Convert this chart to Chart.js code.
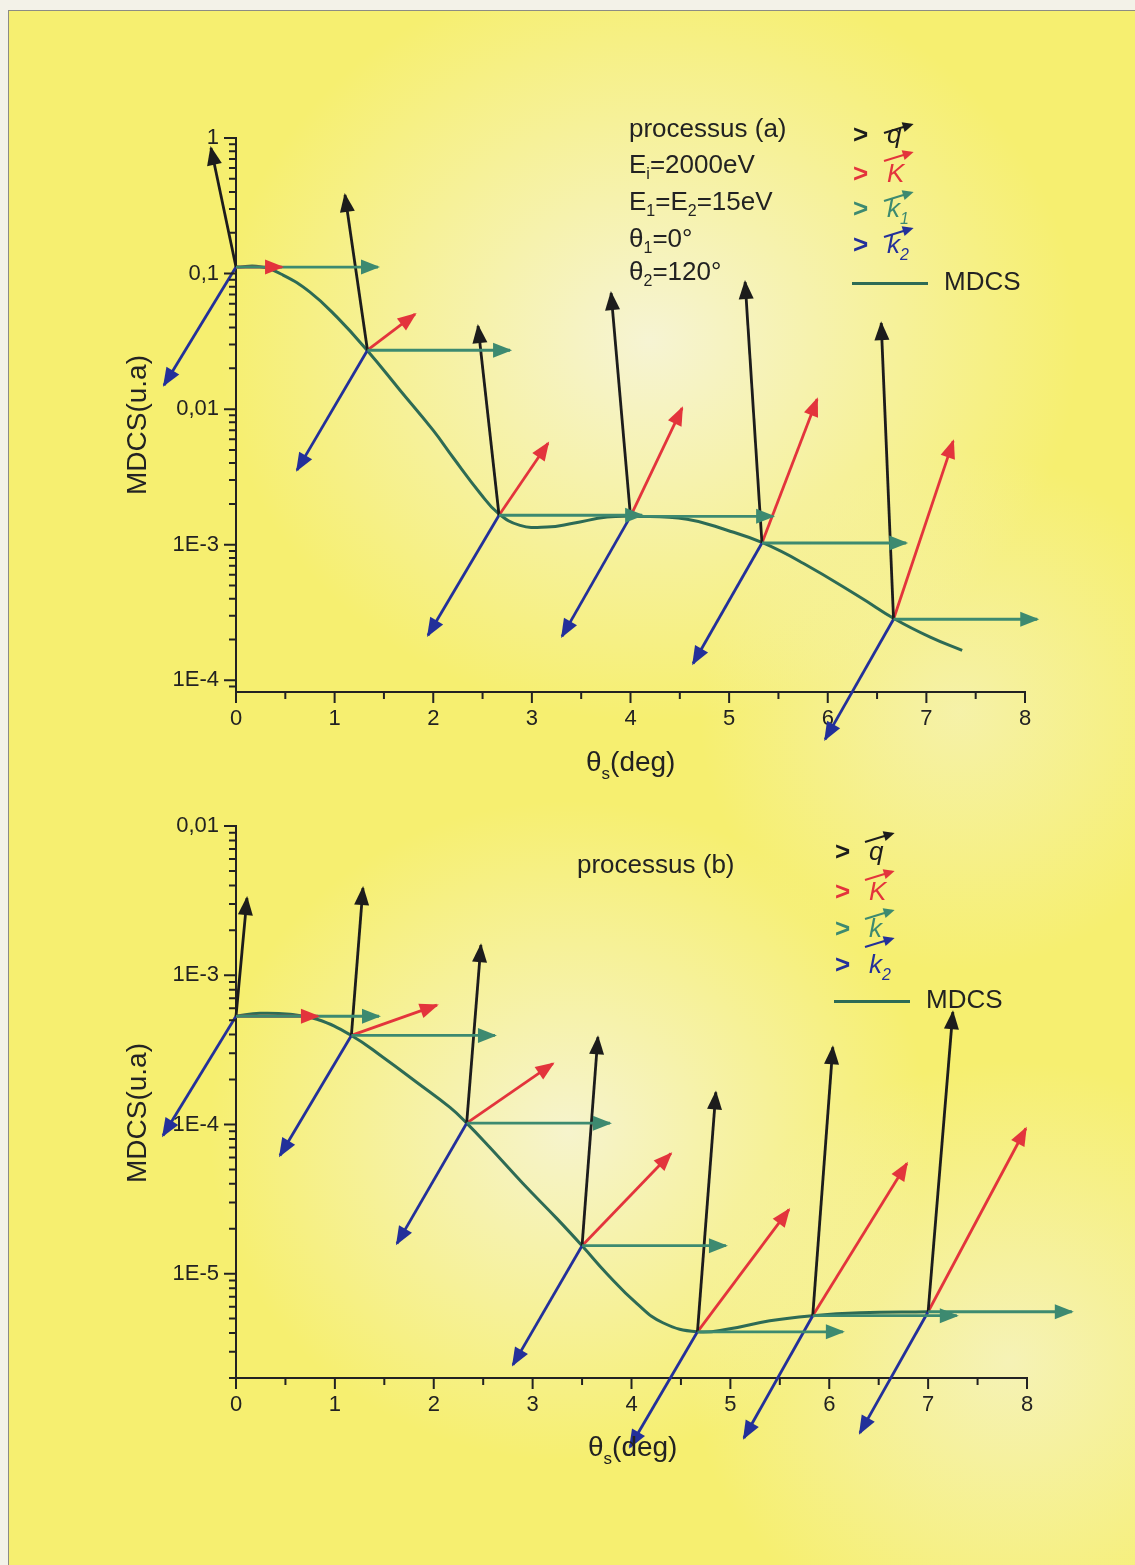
<!DOCTYPE html>
<html>
<head>
<meta charset="utf-8">
<script src="https://cdn.jsdelivr.net/npm/chart.js@4.4.1/dist/chart.umd.min.js"></script>
<style>
html, body { margin: 0; padding: 0; }
body {
    width: 1135px; height: 1565px; position: relative; overflow: hidden;
    background: #f3f2e8;
    font-family: "Liberation Sans", Arial, sans-serif; color: #222;
}
#page {
    position: absolute; left: 8px; top: 10px; right: 0; bottom: 0;
    border-top: 1.5px solid #8c8c84; border-left: 1.5px solid #8c8c84;
    background:
        radial-gradient(ellipse 430px 380px at 640px 330px, rgba(246,244,214,0.97), rgba(246,244,214,0) 100%),
        radial-gradient(ellipse 360px 330px at 560px 1120px, rgba(246,244,212,0.92), rgba(246,244,212,0) 100%),
        radial-gradient(ellipse 320px 300px at 1000px 1350px, rgba(245,243,205,0.75), rgba(245,243,205,0) 100%),
        radial-gradient(ellipse 260px 260px at 950px 700px, rgba(245,243,205,0.6), rgba(245,243,205,0) 100%),
        #f6ef70;
}
canvas { position: absolute; left: 0; }
.txt { position: absolute; font-size: 26px; line-height: 1; white-space: nowrap; }
.txt sub { font-size: 16px; vertical-align: -6px; line-height: 0; }
.row { position: absolute; font-size: 26px; line-height: 1; white-space: nowrap; }
.gt { font-weight: bold; display: inline-block; width: 34px; }
.vec { position: relative; display: inline-block; font-style: italic; }
.vec i {
    position: absolute; left: -3px; top: 0; width: 28px; height: 2px;
    background: currentColor; transform: rotate(-17deg); transform-origin: 0 50%;
}
.vec i::after {
    content: ''; position: absolute; right: -3px; top: -4px;
    border-left: 11px solid currentColor; border-top: 5px solid transparent; border-bottom: 5px solid transparent;
}
.vec sub { font-size: 16px; vertical-align: -7px; line-height: 0; font-style: italic; }
.leg-line { display: inline-block; width: 76px; height: 3px; background: #2d6b55; vertical-align: middle; margin-right: 16px; }
.ytitle { position: absolute; font-size: 28px; line-height: 1; white-space: nowrap; transform: translate(-50%, -50%) rotate(-90deg); }
.xtitle { position: absolute; font-size: 28px; line-height: 1; white-space: nowrap; }
.xtitle sub { font-size: 17px; vertical-align: -8px; line-height: 0; }
</style>
</head>
<body>
<div id="page"></div>
<canvas id="chart-a" width="1135" height="800" style="top:0"></canvas>
<canvas id="chart-b" width="1135" height="865" style="top:700px"></canvas>

<!-- processus (a) -->
<div class="txt" style="left:629px;top:115px">processus (a)</div>
<div class="txt" style="left:629px;top:151px">E<sub>i</sub>=2000eV</div>
<div class="txt" style="left:629px;top:188px">E<sub>1</sub>=E<sub>2</sub>=15eV</div>
<div class="txt" style="left:629px;top:225px">θ<sub>1</sub>=0°</div>
<div class="txt" style="left:629px;top:258px">θ<sub>2</sub>=120°</div>

<div class="row" style="left:853px;top:121px;color:#1c1c1c"><span class="gt">&gt;</span><span class="vec">q<i style="top:11px"></i></span></div>
<div class="row" style="left:853px;top:160px;color:#e3343c"><span class="gt">&gt;</span><span class="vec">K<i style="top:0"></i></span></div>
<div class="row" style="left:853px;top:195px;color:#3d8a70"><span class="gt">&gt;</span><span class="vec">k<sub>1</sub><i style="top:5px"></i></span></div>
<div class="row" style="left:853px;top:231px;color:#23309a"><span class="gt">&gt;</span><span class="vec">k<sub>2</sub><i style="top:5px"></i></span></div>
<div class="row" style="left:852px;top:268px"><span class="leg-line"></span>MDCS</div>

<div class="ytitle" style="left:137px;top:425px">MDCS(u.a)</div>
<div class="xtitle" style="left:586px;top:748px">θ<sub>s</sub>(deg)</div>

<!-- processus (b) -->
<div class="txt" style="left:577px;top:851px">processus (b)</div>

<div class="row" style="left:835px;top:838px;color:#1c1c1c"><span class="gt">&gt;</span><span class="vec">q<i style="top:3px;left:-4px"></i></span></div>
<div class="row" style="left:835px;top:878px;color:#e3343c"><span class="gt">&gt;</span><span class="vec">K<i style="top:1px;left:-4px"></i></span></div>
<div class="row" style="left:835px;top:915px;color:#3d8a70"><span class="gt">&gt;</span><span class="vec">k<i style="top:3px;left:-4px"></i></span></div>
<div class="row" style="left:835px;top:951px;color:#23309a"><span class="gt">&gt;</span><span class="vec">k<sub>2</sub><i style="top:-5px;left:-4px"></i></span></div>
<div class="row" style="left:834px;top:986px"><span class="leg-line"></span>MDCS</div>

<div class="ytitle" style="left:137px;top:1113px">MDCS(u.a)</div>
<div class="xtitle" style="left:588px;top:1433px">θ<sub>s</sub>(deg)</div>

<script>
// ---- axes ----
const xTicks = [0, 1, 2, 3, 4, 5, 6, 7, 8];
const xTickLabels = ['0', '1', '2', '3', '4', '5', '6', '7', '8'];
const xMinorTicks = [0.5, 1.5, 2.5, 3.5, 4.5, 5.5, 6.5, 7.5];

const yTicksA = [1e-4, 1e-3, 1e-2, 1e-1, 1];
const yTickLabelsA = ['1E-4', '1E-3', '0,01', '0,1', '1'];
const yTicksB = [1e-5, 1e-4, 1e-3, 1e-2];
const yTickLabelsB = ['1E-5', '1E-4', '1E-3', '0,01'];

// ---- processus (a) ----
const curveAx = [0, 0.243, 0.477, 0.750, 1.024, 1.329, 1.663, 1.998, 2.201, 2.475, 2.657, 2.880, 3.154, 3.418, 3.763, 4.026, 4.574, 4.980, 5.345, 5.751, 6.329, 6.684, 7.039, 7.363];
const curveAy = [0.1117, 0.1125, 0.0975, 0.0730, 0.0477, 0.0272, 0.0138, 7.0e-3, 4.4e-3, 2.40e-3, 1.71e-3, 1.39e-3, 1.35e-3, 1.44e-3, 1.60e-3, 1.62e-3, 1.54e-3, 1.28e-3, 1.03e-3, 7.3e-4, 4.10e-4, 2.82e-4, 2.08e-4, 1.66e-4];

const originAx = [0, 1.333, 2.667, 4, 5.333, 6.667];
const originAy = [0.1117, 0.0272, 1.65e-3, 1.62e-3, 1.03e-3, 2.82e-4];
const qAx = [-0.254, 1.105, 2.454, 3.803, 5.162, 6.542];
const qAy = [0.844, 0.380, 0.0410, 0.0718, 0.0865, 0.0431];
const KAx = [0.467, 1.815, 3.164, 4.523, 5.892, 7.272];
const KAy = [0.1117, 0.0502, 5.61e-3, 0.01017, 0.01185, 5.81e-3];
const k1Ax = [1.440, 2.779, 4.118, 5.446, 6.795, 8.124];
const k2Ax = [-0.730, 0.619, 1.947, 3.306, 4.635, 5.974];
const k2Ay = [0.01503, 3.55e-3, 2.15e-4, 2.11e-4, 1.33e-4, 3.67e-5];

// ---- processus (b) ----
const curveBx = [0, 0.243, 0.546, 0.819, 1.167, 1.486, 1.830, 2.164, 2.333, 2.568, 2.902, 3.246, 3.5, 3.751, 4.055, 4.317, 4.667, 4.995, 5.399, 5.833, 6.309, 7.0];
const curveBy = [5.31e-4, 5.56e-4, 5.47e-4, 5.07e-4, 3.95e-4, 2.82e-4, 1.91e-4, 1.30e-4, 1.02e-4, 7.0e-5, 4.02e-5, 2.34e-5, 1.54e-5, 1.0e-5, 6.3e-6, 4.69e-6, 4.08e-6, 4.28e-6, 4.84e-6, 5.23e-6, 5.47e-6, 5.56e-6];

const originBx = [0, 1.167, 2.333, 3.5, 4.667, 5.833, 7];
const originBy = [5.31e-4, 3.95e-4, 1.02e-4, 1.54e-5, 4.08e-6, 5.23e-6, 5.56e-6];
const qBx = [0.111, 1.284, 2.477, 3.660, 4.853, 6.036, 7.250];
const qBy = [3.29e-3, 3.84e-3, 1.59e-3, 3.84e-4, 1.64e-4, 3.29e-4, 5.65e-4];
const KBx = [0.829, 2.032, 3.205, 4.398, 5.592, 6.785, 7.988];
const KBy = [5.31e-4, 6.30e-4, 2.56e-4, 6.38e-5, 2.69e-5, 5.47e-5, 9.40e-5];
const k1Bx = [1.446, 2.619, 3.782, 4.955, 6.138, 7.290, 8.453];
const k2Bx = [-0.738, 0.445, 1.628, 2.801, 3.984, 5.137, 6.310];
const k2By = [8.43e-5, 6.19e-5, 1.59e-5, 2.45e-6, 6.90e-7, 7.92e-7, 8.57e-7];

const COL = { q: '#1c1c1c', K: '#e3343c', k1: '#3d8a70', k2: '#23309a', mdcs: '#2d6b55' };

function arrow(color, x0, y0, x1, y1) {
    return {
        arrow: true,
        data: [{ x: x0, y: y0 }, { x: x1, y: y1 }],
        borderColor: color, backgroundColor: color,
        borderWidth: 2.8, pointRadius: 0, tension: 0, clip: false
    };
}

function buildDatasets(cx, cy, ox, oy, qx, qy, kx, ky, k1x, k2x, k2y) {
    const sets = [];
    ox.forEach((x, i) => {
        sets.push(arrow(COL.k1, x, oy[i], k1x[i], oy[i]));
        sets.push(arrow(COL.q, x, oy[i], qx[i], qy[i]));
        sets.push(arrow(COL.K, x, oy[i], kx[i], ky[i]));
        sets.push(arrow(COL.k2, x, oy[i], k2x[i], k2y[i]));
    });
    sets.push({
        data: cx.map((x, i) => ({ x: x, y: cy[i] })),
        borderColor: COL.mdcs, borderWidth: 3, pointRadius: 0,
        tension: 0.45, clip: false
    });
    return sets;
}

// arrowheads at the end point of every arrow dataset
const arrowHeads = {
    id: 'arrowHeads',
    afterDatasetsDraw(chart) {
        const ctx = chart.ctx;
        chart.data.datasets.forEach((ds, i) => {
            if (!ds.arrow) return;
            const pts = chart.getDatasetMeta(i).data;
            const a = pts[0], b = pts[1];
            const ang = Math.atan2(b.y - a.y, b.x - a.x);
            ctx.save();
            ctx.fillStyle = ds.borderColor;
            ctx.translate(b.x, b.y);
            ctx.rotate(ang);
            ctx.beginPath();
            ctx.moveTo(2, 0);
            ctx.lineTo(-17, -7.5);
            ctx.lineTo(-17, 7.5);
            ctx.closePath();
            ctx.fill();
            ctx.restore();
        });
    }
};

// outward major/minor tick marks, placed with the chart's own scales
function tickMarks(yMajor) {
    return {
        id: 'tickMarks',
        afterDraw(chart) {
            const xs = chart.scales.x, ys = chart.scales.y, ctx = chart.ctx;
            const yMinor = [];
            [yMajor[0] / 10].concat(yMajor).forEach(d => {
                for (let m = 2; m <= 9; m++) {
                    const v = m * d;
                    if (v >= ys.min && v <= ys.max) yMinor.push(v);
                }
            });
            ctx.save();
            ctx.strokeStyle = '#222';
            ctx.lineWidth = 2;
            ctx.beginPath();
            yMajor.forEach(v => { const p = ys.getPixelForValue(v); ctx.moveTo(xs.left - 12, p); ctx.lineTo(xs.left, p); });
            yMinor.forEach(v => { const p = ys.getPixelForValue(v); ctx.moveTo(xs.left - 7, p); ctx.lineTo(xs.left, p); });
            xTicks.forEach(v => { const p = xs.getPixelForValue(v); ctx.moveTo(p, ys.bottom); ctx.lineTo(p, ys.bottom + 11); });
            xMinorTicks.forEach(v => { const p = xs.getPixelForValue(v); ctx.moveTo(p, ys.bottom); ctx.lineTo(p, ys.bottom + 7); });
            ctx.stroke();
            ctx.restore();
        }
    };
}

function makeChart(id, datasets, yMin, yMax, yTicks, yLabels, pad, xHeight) {
    return new Chart(document.getElementById(id), {
        type: 'line',
        data: { datasets: datasets },
        plugins: [arrowHeads, tickMarks(yTicks)],
        options: {
            responsive: false,
            animation: false,
            events: [],
            layout: { padding: pad },
            plugins: { legend: { display: false }, tooltip: { enabled: false } },
            scales: {
                x: {
                    type: 'linear', min: 0, max: 8,
                    afterBuildTicks: s => { s.ticks = xTicks.map(v => ({ value: v })); },
                    afterFit: s => { s.height = xHeight; },
                    grid: { display: false, drawTicks: false },
                    border: { display: true, color: '#222', width: 2 },
                    ticks: {
                        padding: 14, color: '#222', maxRotation: 0,
                        font: { family: 'Liberation Sans', size: 22 },
                        callback: (v, i) => xTickLabels[i]
                    }
                },
                y: {
                    type: 'logarithmic', min: yMin, max: yMax,
                    afterBuildTicks: s => { s.ticks = yTicks.map(v => ({ value: v })); },
                    afterFit: s => { s.width = 236; },
                    grid: { display: false, drawTicks: false },
                    border: { display: true, color: '#222', width: 2 },
                    ticks: {
                        padding: 17, color: '#222', autoSkip: false,
                        font: { family: 'Liberation Sans', size: 22 },
                        callback: (v, i) => yLabels[i]
                    }
                }
            }
        }
    });
}

makeChart('chart-a',
    buildDatasets(curveAx, curveAy, originAx, originAy, qAx, qAy, KAx, KAy, k1Ax, k2Ax, k2Ay),
    8.2e-5, 1, yTicksA, yTickLabelsA,
    { left: 0, right: 110, top: 138, bottom: 0 }, 108);

makeChart('chart-b',
    buildDatasets(curveBx, curveBy, originBx, originBy, qBx, qBy, KBx, KBy, k1Bx, k2Bx, k2By),
    2e-6, 1e-2, yTicksB, yTickLabelsB,
    { left: 0, right: 108, top: 126, bottom: 0 }, 187);
</script>
</body>
</html>
